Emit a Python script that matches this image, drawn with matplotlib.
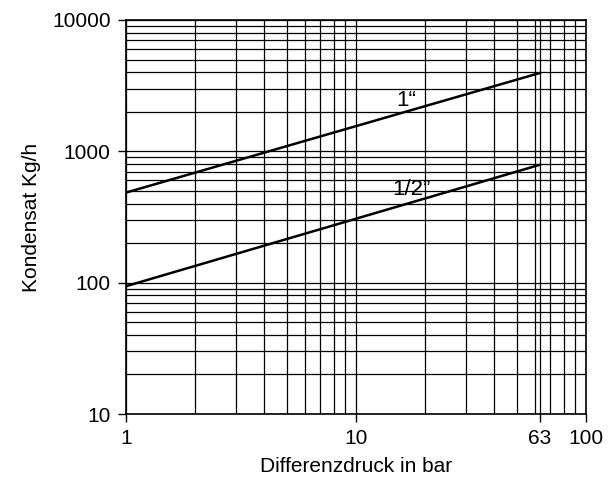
import matplotlib
matplotlib.use("Agg")
import matplotlib.pyplot as plt
from matplotlib.ticker import FixedLocator, LogLocator, NullFormatter

plt.rcParams['font.family'] = ['Liberation Sans', 'DejaVu Sans']

# Kennlinien (Differenzdruck bar -> Kondensat kg/h)
druck = [1, 63]
kond_1zoll = [485, 3950]
kond_halbzoll = [94, 790]

xticks = [1, 10, 63, 100]
xticklabels = ["1", "10", "63", "100"]
yticks = [10, 100, 1000, 10000]
yticklabels = ["10", "100", "1000", "10000"]

fig = plt.figure(figsize=(6.08, 5.0), dpi=100)
ax = fig.add_axes([126 / 608, 1 - 414 / 500, 460 / 608, 394 / 500])

ax.set_xscale("log")
ax.set_yscale("log")
ax.set_xlim(1, 100)
ax.set_ylim(10, 10000)

ax.xaxis.set_major_locator(FixedLocator(xticks))
ax.set_xticklabels(xticklabels)
ax.yaxis.set_major_locator(FixedLocator(yticks))
ax.set_yticklabels(yticklabels)
ax.xaxis.set_minor_locator(LogLocator(base=10, subs=range(2, 10)))
ax.yaxis.set_minor_locator(LogLocator(base=10, subs=range(2, 10)))
ax.xaxis.set_minor_formatter(NullFormatter())
ax.yaxis.set_minor_formatter(NullFormatter())

ax.grid(True, which="both", color="black", linewidth=0.9)
ax.tick_params(which="major", direction="out", length=6, width=1, labelsize=15, pad=5)
ax.tick_params(which="minor", length=0)
for s in ax.spines.values():
    s.set_linewidth(1.2)

ax.plot(druck, kond_1zoll, color="black", linewidth=1.8)
ax.plot(druck, kond_halbzoll, color="black", linewidth=1.8)

ax.text(16.5, 2450, "1“", fontsize=16, ha="center", va="center")
ax.text(17.5, 510, "1/2”", fontsize=16, ha="center", va="center")

ax.set_xlabel("Differenzdruck in bar", fontsize=15, labelpad=6)
ax.set_ylabel("Kondensat Kg/h", fontsize=15, labelpad=8)

fig.savefig("out.png", dpi=100)
